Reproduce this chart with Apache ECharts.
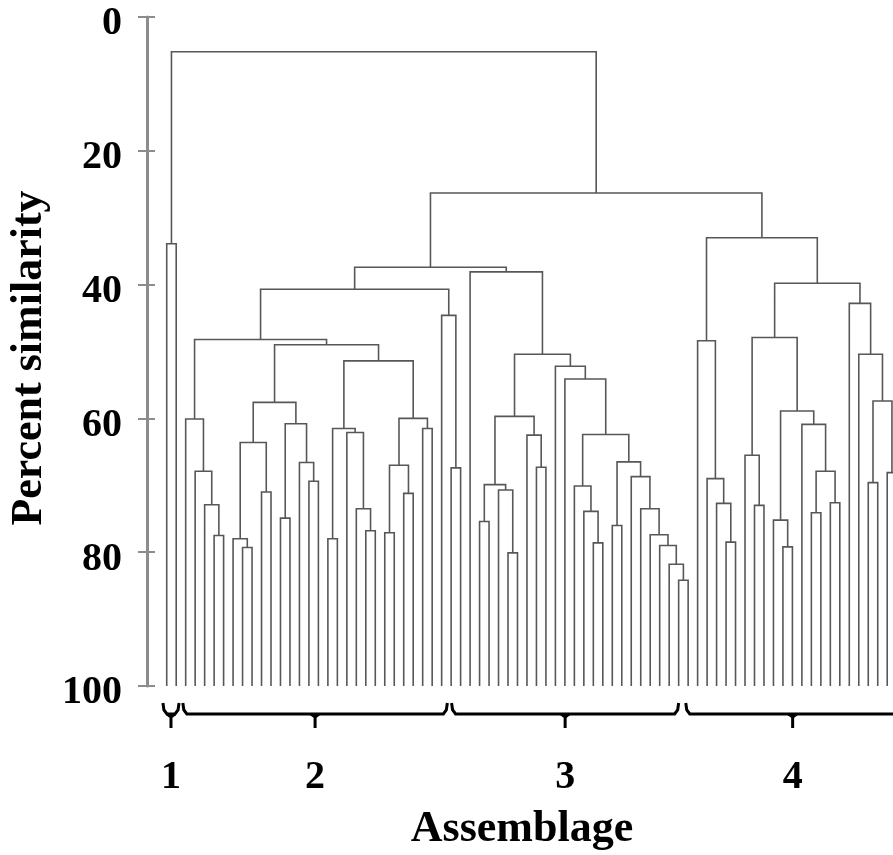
<!DOCTYPE html>
<html>
<head>
<meta charset="utf-8">
<script src="https://cdn.jsdelivr.net/npm/echarts@6/dist/echarts.min.js"></script>
<style>
html, body { margin: 0; padding: 0; background: #fff; }
#chart { width: 893px; height: 855px; }
</style>
</head>
<body>
<div id="chart"></div>
<script>
// leaves are numbered 0..77 from left to right, last one falls just past the right edge
var leafCount = 78;
var yTicks = [0, 20, 40, 60, 80, 100];

// merges: [node name, left child, right child, percent similarity]
var cluster1Merges = [
    ['g1', 0, 1, 33.9]
];
var cluster2Merges = [
    ['a56', 5, 6, 77.5], ['a4', 4, 'a56', 72.9], ['a3', 3, 'a4', 67.9], ['a2', 2, 'a3', 60.1],
    ['b89', 8, 9, 79.3], ['b7', 7, 'b89', 78.0], ['b1011', 10, 11, 71.0], ['bG', 'b7', 'b1011', 63.6],
    ['c1213', 12, 13, 74.9], ['c1516', 15, 16, 69.4], ['c14', 14, 'c1516', 66.6], ['cH', 'c1213', 'c14', 60.8],
    ['dF', 'bG', 'cH', 57.6],
    ['e1718', 17, 18, 78.0], ['e2122', 21, 22, 76.8], ['e20', 20, 'e2122', 73.5], ['eK', 19, 'e20', 62.1],
    ['eJ', 'e1718', 'eK', 61.5],
    ['f2324', 23, 24, 77.1], ['f2526', 25, 26, 71.2], ['f23', 'f2324', 'f2526', 67.0],
    ['f2728', 27, 28, 61.5], ['fL', 'f23', 'f2728', 60.0],
    ['gI', 'eJ', 'fL', 51.4], ['gE', 'dF', 'gI', 49.0], ['gC', 'a2', 'gE', 48.2],
    ['h3031', 30, 31, 67.4], ['hD', 29, 'h3031', 44.6], ['hB', 'gC', 'hD', 40.7]
];
var cluster3Merges = [
    ['i3334', 33, 34, 75.4], ['i3637', 36, 37, 80.1], ['i35', 35, 'i3637', 70.7], ['i33', 'i3334', 'i35', 69.9],
    ['i3940', 39, 40, 67.3], ['i38', 38, 'i3940', 62.5], ['iO', 'i33', 'i38', 59.7],
    ['j4546', 45, 46, 78.6], ['j44', 44, 'j4546', 73.9], ['j43', 43, 'j44', 70.1],
    ['j5455', 54, 55, 84.2], ['jX', 53, 'j5455', 81.8], ['jW', 52, 'jX', 79.0], ['jV', 51, 'jW', 77.4],
    ['jU', 50, 'jV', 73.5], ['jT', 49, 'jU', 68.7], ['j4748', 47, 48, 76.0], ['jS', 'j4748', 'jT', 66.5],
    ['jR', 'j43', 'jS', 62.4], ['jQ', 42, 'jR', 54.1], ['jP', 41, 'jQ', 52.2], ['jN', 'iO', 'jP', 50.4],
    ['jM', 32, 'jN', 38.1]
];
var cluster4Merges = [
    ['l5960', 59, 60, 78.5], ['l58', 58, 'l5960', 72.7], ['l57', 57, 'l58', 69.0], ['lY', 56, 'l57', 48.4],
    ['m6263', 62, 63, 73.0], ['m61', 61, 'm6263', 65.5], ['m6566', 65, 66, 79.2], ['m64', 64, 'm6566', 75.2],
    ['m6869', 68, 69, 74.1], ['m7071', 70, 71, 72.6], ['mFF', 'm6869', 'm7071', 67.9], ['mEE', 67, 'mFF', 60.9],
    ['mDD', 'm64', 'mEE', 58.9], ['mBB', 'm61', 'mDD', 47.9],
    ['n7475', 74, 75, 69.6], ['n7677', 76, 77, 68.1], ['nHH', 'n7475', 'n7677', 57.4],
    ['nGG', 73, 'nHH', 50.4], ['nCC', 72, 'nGG', 42.8], ['nAA', 'mBB', 'nCC', 39.8], ['nZ', 'lY', 'nAA', 33.0]
];
var upperMerges = [
    ['kA', 'hB', 'jM', 37.4],
    ['top', 'kA', 'nZ', 26.3],
    ['root', 'g1', 'top', 5.2]
];

// assemblage brackets, in leaf units
var groupNames = ['1', '2', '3', '4'];
var groupStart = [-0.4, 1.7, 30.05, 54.75];
var groupEnd = [1.3, 29.6, 54.0, 77.3];

// build dendrogram segments
var nodes = {};
for (var i = 0; i < leafCount; i++) {
    nodes[i] = { x: i, h: 100 };
}
var segments = [];
var allMerges = cluster1Merges.concat(cluster2Merges, cluster3Merges, cluster4Merges, upperMerges);
allMerges.forEach(function (m) {
    var L = nodes[m[1]], R = nodes[m[2]], h = m[3];
    nodes[m[0]] = { x: (L.x + R.x) / 2, h: h };
    segments.push({ coords: [[L.x, L.h], [L.x, h], [R.x, h], [R.x, R.h]] });
});

var groupData = groupNames.map(function (n, k) {
    return [groupStart[k], groupEnd[k]];
});

var serif = 'Liberation Serif';
var chart = echarts.init(document.getElementById('chart'));
var option = {
    backgroundColor: '#fff',
    animation: false,
    grid: { left: 147, right: 0, top: 17, bottom: 169 },
    xAxis: {
        type: 'value',
        min: -2.08,
        max: 76.61,
        show: false
    },
    yAxis: [
        {
            type: 'value',
            inverse: true,
            min: 0,
            max: 100,
            interval: 20,
            position: 'left',
            axisLine: { show: true, onZero: false, lineStyle: { color: '#8c8c8c', width: 3 } },
            axisTick: { show: true, length: 9, lineStyle: { color: '#8c8c8c', width: 2 } },
            axisLabel: {
                margin: 25,
                formatter: function (v) { return yTicks.indexOf(v) >= 0 ? '{v|' + v + '}' : ''; },
                rich: {
                    v: {
                        color: '#000',
                        fontFamily: serif,
                        fontWeight: 'bold',
                        fontSize: 40,
                        padding: [14, 0, 0, 0]
                    }
                }
            },
            splitLine: { show: false }
        },
        {
            type: 'value',
            inverse: true,
            min: 0,
            max: 100,
            interval: 20,
            position: 'left',
            axisLine: { show: false, onZero: false },
            axisTick: { show: true, inside: true, length: 8, lineStyle: { color: '#8c8c8c', width: 2 } },
            axisLabel: { show: false },
            splitLine: { show: false }
        }
    ],
    graphic: [
        {
            type: 'text',
            x: 30,
            y: 358,
            rotation: Math.PI / 2,
            style: {
                text: 'Percent similarity',
                fontFamily: serif,
                fontWeight: 'bold',
                fontSize: 44,
                fill: '#000',
                align: 'center',
                verticalAlign: 'middle'
            }
        },
        {
            type: 'text',
            x: 522,
            y: 830,
            style: {
                text: 'Assemblage',
                fontFamily: serif,
                fontWeight: 'bold',
                fontSize: 44,
                fill: '#000',
                align: 'center',
                verticalAlign: 'middle'
            }
        }
    ],
    series: [
        {
            type: 'lines',
            coordinateSystem: 'cartesian2d',
            polyline: true,
            silent: true,
            clip: true,
            lineStyle: { color: '#575757', width: 1.6, opacity: 1 },
            data: segments
        },
        {
            type: 'custom',
            clip: false,
            silent: true,
            data: groupData,
            renderItem: function (params, api) {
                var s = api.coord([api.value(0), 100]);
                var e = api.coord([api.value(1), 100]);
                var c = (s[0] + e[0]) / 2;
                var yb = s[1] + 28, yh = s[1] + 17, yt = s[1] + 42;
                return {
                    type: 'group',
                    children: [
                        {
                            type: 'polyline',
                            shape: { points: [[s[0], yh], [s[0] + 1, yb - 4], [s[0] + 4, yb], [e[0] - 4, yb], [e[0] - 1, yb - 4], [e[0], yh]] },
                            style: { stroke: '#000', lineWidth: 3, fill: null }
                        },
                        {
                            type: 'polyline',
                            shape: { points: [[c - 4, yb], [c, yb + 3], [c, yt]] },
                            style: { stroke: '#000', lineWidth: 3, fill: null }
                        },
                        {
                            type: 'polyline',
                            shape: { points: [[c + 4, yb], [c, yb + 3]] },
                            style: { stroke: '#000', lineWidth: 3, fill: null }
                        },
                        {
                            type: 'text',
                            x: c,
                            y: s[1] + 92,
                            style: {
                                text: groupNames[params.dataIndex],
                                fontFamily: serif,
                                fontWeight: 'bold',
                                fontSize: 40,
                                fill: '#000',
                                align: 'center',
                                verticalAlign: 'middle'
                            }
                        }
                    ]
                };
            }
        }
    ]
};
chart.setOption(option);
</script>
</body>
</html>
